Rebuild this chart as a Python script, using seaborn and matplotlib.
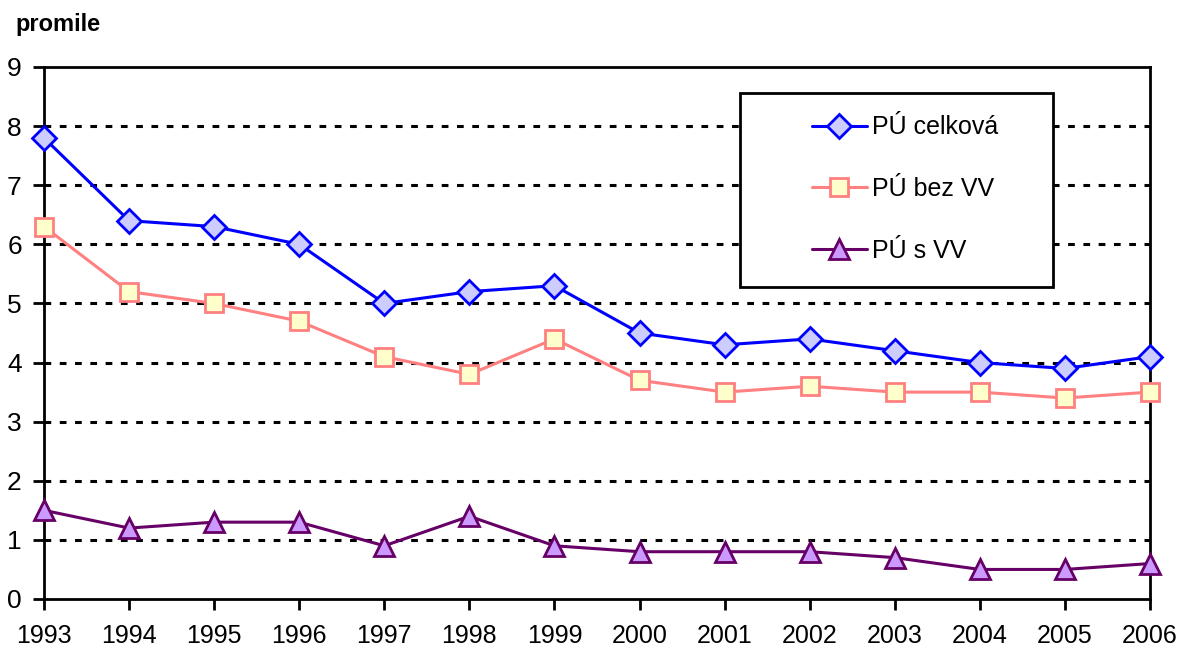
import matplotlib
matplotlib.use("Agg")
import matplotlib.pyplot as plt
import seaborn as sns
import pandas as pd
from matplotlib.patches import Rectangle
from matplotlib import font_manager

years = list(range(1993, 2007))
celkova = [7.8, 6.4, 6.3, 6.0, 5.0, 5.2, 5.3, 4.5, 4.3, 4.4, 4.2, 4.0, 3.9, 4.1]
bez_vv = [6.3, 5.2, 5.0, 4.7, 4.1, 3.8, 4.4, 3.7, 3.5, 3.6, 3.5, 3.5, 3.4, 3.5]
s_vv = [1.5, 1.2, 1.3, 1.3, 0.9, 1.4, 0.9, 0.8, 0.8, 0.8, 0.7, 0.5, 0.5, 0.6]
labels = ["PÚ celková", "PÚ bez VV", "PÚ s VV"]

sns.set_style("white")
names = {f.name for f in font_manager.fontManager.ttflist}
tick_font = "Liberation Sans Narrow" if "Liberation Sans Narrow" in names else "Liberation Sans"
plt.rcParams["font.family"] = ["Liberation Sans", "DejaVu Sans"]
plt.rcParams["text.color"] = "black"

fig = plt.figure(figsize=(11.77, 6.51), dpi=100)
ax = fig.add_axes([44 / 1177, 1 - 599 / 651, (1150 - 44) / 1177, (599 - 67) / 651])

df = pd.DataFrame({"rok": years, labels[0]: celkova, labels[1]: bez_vv, labels[2]: s_vv})
styles = [
    (labels[0], "#0000FF", "#CCCCFF", "D", 12),
    (labels[1], "#FF8080", "#FFFFCC", "s", 13),
    (labels[2], "#660066", "#CC99FF", "^", 14),
]
for name, col, fill, mk, ms in styles:
    sns.lineplot(data=df, x="rok", y=name, ax=ax, color=col, lw=2.2, marker=mk,
                 markersize=ms, markerfacecolor=fill, markeredgecolor=col,
                 markeredgewidth=2, label=name, clip_on=False, zorder=5)

ax.set_xlim(1993, 2006)
ax.set_ylim(0, 9)
ax.set_xticks(years)
ax.set_yticks(range(0, 10))
ax.set_xlabel("")
ax.set_ylabel("")
for y in range(1, 9):
    ax.axhline(y, color="black", lw=2.2, ls=(0, (2.2, 2.8)), zorder=1)
for sp in ax.spines.values():
    sp.set_color("black")
    sp.set_linewidth(2)
ax.tick_params(axis="both", direction="out", length=8, width=2, color="black",
               labelsize=18, left=True, bottom=True, labelcolor="black")
ax.tick_params(axis="x", pad=10)
ax.tick_params(axis="y", pad=8)
for t in ax.get_xticklabels() + ax.get_yticklabels():
    t.set_fontfamily(tick_font)
    t.set_fontsize(19 if t in ax.get_yticklabels() else 18)

fig.text(15 / 1177, 1 - 25 / 651, "promile", fontsize=17, fontweight="bold",
         va="center", ha="left", color="black")

ax.get_legend().remove()
handles, lbls = ax.get_legend_handles_labels()
fig.patches.append(Rectangle((740 / 1177, 1 - 287 / 651), (1053 - 740) / 1177,
                             (287 - 93) / 651, transform=fig.transFigure,
                             facecolor="white", edgecolor="black", lw=2, zorder=10))
leg = fig.legend(handles, lbls, loc="upper left", bbox_to_anchor=(799 / 1177, 1 - 103 / 651),
                 frameon=False, fontsize=18, handlelength=2.2, handletextpad=0.2,
                 labelspacing=1.5, borderpad=0)
leg.set_zorder(11)
for t in leg.get_texts():
    t.set_color("black")

fig.savefig("out.png", dpi=100)
